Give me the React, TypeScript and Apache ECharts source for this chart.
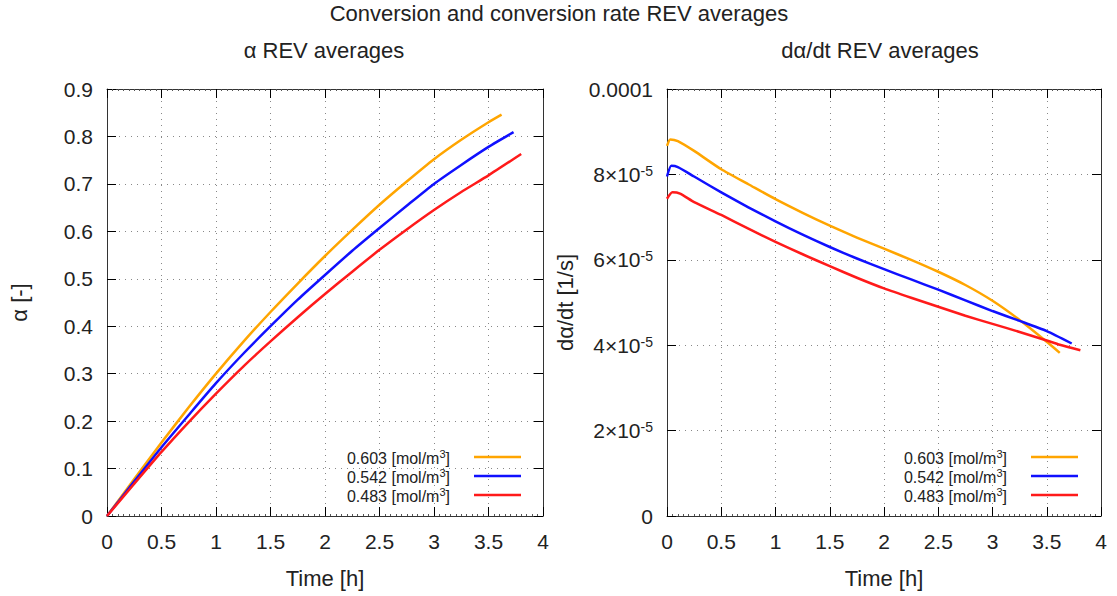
import React, { useEffect, useRef } from 'react';
import * as echarts from 'echarts';

// ---- data ----
const concentrations = ['0.603', '0.542', '0.483'];
const seriesColors = ['#ffa500', '#1010ff', '#ff1a1a'];

// alpha (left)
const alphaTime603 = [0, 0.25, 0.5, 0.75, 1, 1.25, 1.5, 1.75, 2, 2.25, 2.5, 2.75, 3, 3.25, 3.5, 3.62];
const alpha603 = [0, 0.078, 0.155, 0.229, 0.3, 0.367, 0.43, 0.49, 0.548, 0.603, 0.656, 0.705, 0.752, 0.793, 0.83, 0.846];
const alphaTime542 = [0, 0.25, 0.5, 0.75, 1, 1.25, 1.5, 1.75, 2, 2.25, 2.5, 2.75, 3, 3.25, 3.5, 3.73];
const alpha542 = [0, 0.073, 0.145, 0.213, 0.28, 0.342, 0.4, 0.456, 0.508, 0.559, 0.607, 0.654, 0.7, 0.74, 0.778, 0.809];
const alphaTime483 = [0, 0.25, 0.5, 0.75, 1, 1.25, 1.5, 1.75, 2, 2.25, 2.5, 2.75, 3, 3.25, 3.5, 3.8];
const alpha483 = [0, 0.068, 0.135, 0.198, 0.258, 0.315, 0.368, 0.419, 0.468, 0.515, 0.561, 0.604, 0.645, 0.683, 0.718, 0.763];

// dalpha/dt (right), in 1/s
const rateTime603 = [0, 0.03, 0.1, 0.25, 0.5, 0.75, 1, 1.25, 1.5, 1.75, 2, 2.25, 2.5, 2.75, 3, 3.25, 3.5, 3.62];
const rate603 = [8.67e-5, 8.82e-5, 8.78e-5, 8.55e-5, 8.12e-5, 7.77e-5, 7.42e-5, 7.1e-5, 6.8e-5, 6.52e-5, 6.26e-5, 6.0e-5, 5.72e-5, 5.41e-5, 5.04e-5, 4.59e-5, 4.08e-5, 3.82e-5];
const rateTime542 = [0, 0.04, 0.1, 0.25, 0.5, 0.75, 1, 1.25, 1.5, 1.75, 2, 2.25, 2.5, 2.75, 3, 3.25, 3.5, 3.73];
const rate542 = [7.95e-5, 8.2e-5, 8.17e-5, 7.95e-5, 7.58e-5, 7.23e-5, 6.9e-5, 6.59e-5, 6.3e-5, 6.03e-5, 5.78e-5, 5.54e-5, 5.3e-5, 5.05e-5, 4.8e-5, 4.57e-5, 4.33e-5, 4.04e-5];
const rateTime483 = [0, 0.05, 0.12, 0.25, 0.5, 0.75, 1, 1.25, 1.5, 1.75, 2, 2.25, 2.5, 2.75, 3, 3.25, 3.5, 3.62, 3.81];
const rate483 = [7.43e-5, 7.58e-5, 7.55e-5, 7.35e-5, 7.05e-5, 6.73e-5, 6.42e-5, 6.13e-5, 5.85e-5, 5.58e-5, 5.33e-5, 5.11e-5, 4.9e-5, 4.69e-5, 4.5e-5, 4.31e-5, 4.11e-5, 4.01e-5, 3.88e-5];

const mainTitle = 'Conversion and conversion rate REV averages';
const leftTitle = 'α REV averages';
const rightTitle = 'dα/dt REV averages';
const xName = 'Time [h]';
const leftYName = 'α [-]';
const rightYName = 'dα/dt [1/s]';

const FONT = '"Liberation Sans", Arial, sans-serif';
const TXT = '#222';

const zip = (xs: number[], ys: number[]) => xs.map((x, i) => [x, ys[i]]);
const names = concentrations.map((c) => c + ' [mol/m3]');

function xAxes(gridIndex: number) {
  const common = {
    type: 'value',
    gridIndex,
    min: 0,
    max: 4,
    interval: 0.5,
  };
  return [
    {
      ...common,
      position: 'bottom',
      axisLine: { show: true, onZero: false, lineStyle: { color: '#333', width: 1 } },
      axisTick: { show: true, inside: true, length: 9, lineStyle: { color: '#000' } },
      minorTick: { show: true, splitNumber: 10, length: 2, lineStyle: { color: '#555' } },
      axisLabel: { fontSize: 21, color: TXT, margin: 15, fontFamily: FONT },
      splitLine: { show: true, lineStyle: { type: [1, 5], color: '#888', width: 1 } },
      name: xName,
      nameLocation: 'middle',
      nameGap: 51,
      nameTextStyle: { fontSize: 22, color: TXT, fontFamily: FONT },
    },
    {
      ...common,
      position: 'top',
      axisLine: { show: true, onZero: false, lineStyle: { color: '#333', width: 1 } },
      axisTick: { show: true, inside: true, length: 9, lineStyle: { color: '#000' } },
      minorTick: { show: true, splitNumber: 10, length: 2, lineStyle: { color: '#555' } },
      axisLabel: { show: false },
      splitLine: { show: false },
    },
  ];
}

function yAxes(gridIndex: number, max: number, interval: number, name: string, nameGap: number, formatter?: any) {
  const common = { type: 'value', gridIndex, min: 0, max, interval };
  return [
    {
      ...common,
      position: 'left',
      axisLine: { show: true, onZero: false, lineStyle: { color: '#333', width: 1 } },
      axisTick: { show: true, inside: true, length: 9, lineStyle: { color: '#000' } },
      axisLabel: {
        fontSize: 21,
        color: TXT,
        margin: 14,
        fontFamily: FONT,
        formatter,
        rich: {
          b: { fontSize: 21, color: TXT, fontFamily: FONT },
          s: { fontSize: 14, color: TXT, fontFamily: FONT, verticalAlign: 'top' },
        },
      },
      splitLine: { show: true, lineStyle: { type: [1, 5], color: '#888', width: 1 } },
      name,
      nameLocation: 'middle',
      nameGap,
      nameTextStyle: { fontSize: 22, color: TXT, fontFamily: FONT },
    },
    {
      ...common,
      position: 'right',
      axisLine: { show: true, onZero: false, lineStyle: { color: '#333', width: 1 } },
      axisTick: { show: true, inside: true, length: 9, lineStyle: { color: '#000' } },
      axisLabel: { show: false },
      splitLine: { show: false },
    },
  ];
}

const rateFormatter = (v: number) => {
  if (v === 0) return '0';
  if (Math.abs(v - 1e-4) < 1e-9) return '0.0001';
  const m = Math.round(v / 1e-5);
  return '{b|' + m + '×10}{s|-5}';
};

function legend(right: number) {
  return {
    data: names,
    orient: 'vertical',
    right,
    top: 443,
    align: 'right',
    icon: 'rect',
    itemWidth: 47,
    itemHeight: 2.5,
    itemGap: 1,
    selectedMode: false,
    formatter: (n: string) => '{a|' + n.replace(' [mol/m3]', ' [mol/m') + '}{s|3}{a|]}',
    textStyle: {
      color: TXT,
      fontSize: 16,
      fontFamily: FONT,
      padding: [0, 19, 0, 0],
      rich: {
        a: { fontSize: 16, lineHeight: 18, color: TXT, fontFamily: FONT, verticalAlign: 'bottom' },
        s: { fontSize: 11, lineHeight: 11, color: TXT, fontFamily: FONT, verticalAlign: 'top' },
      },
    },
  };
}

function lineSeries(name: string, color: string, data: number[][], axisIndex: number) {
  return {
    type: 'line',
    name,
    data,
    xAxisIndex: axisIndex,
    yAxisIndex: axisIndex,
    showSymbol: false,
    symbol: 'none',
    smooth: 0.2,
    lineStyle: { color, width: 2.5, join: 'round' },
    itemStyle: { color },
  };
}

const option = {
  animation: false,
  backgroundColor: '#fff',
  title: [
    { text: mainTitle, left: 554, top: -3, textAlign: 'center', textStyle: { fontSize: 22, fontWeight: 'normal', color: TXT, fontFamily: FONT } },
    { text: leftTitle, left: 319, top: 34, textAlign: 'center', textStyle: { fontSize: 22, fontWeight: 'normal', color: TXT, fontFamily: FONT } },
    { text: rightTitle, left: 875, top: 34, textAlign: 'center', textStyle: { fontSize: 22, fontWeight: 'normal', color: TXT, fontFamily: FONT } },
  ],
  grid: [
    { left: 107, right: 574, top: 89, bottom: 80, containLabel: false },
    { left: 667, right: 16, top: 89, bottom: 80, containLabel: false },
  ],
  legend: [legend(591), legend(34)],
  xAxis: [...xAxes(0), ...xAxes(1)],
  yAxis: [
    ...yAxes(0, 0.9, 0.1, leftYName, 77, undefined),
    ...yAxes(1, 1e-4, 2e-5, rightYName, 91, rateFormatter),
  ],
  series: [
    lineSeries(names[0], seriesColors[0], zip(alphaTime603, alpha603), 0),
    lineSeries(names[1], seriesColors[1], zip(alphaTime542, alpha542), 0),
    lineSeries(names[2], seriesColors[2], zip(alphaTime483, alpha483), 0),
    lineSeries(names[0], seriesColors[0], zip(rateTime603, rate603), 2),
    lineSeries(names[1], seriesColors[1], zip(rateTime542, rate542), 2),
    lineSeries(names[2], seriesColors[2], zip(rateTime483, rate483), 2),
  ],
};

export default function App() {
  const ref = useRef<HTMLDivElement>(null);
  useEffect(() => {
    const chart = echarts.init(ref.current!, null, { renderer: 'svg' });
    chart.setOption(option as any);
    return () => chart.dispose();
  }, []);
  return <div ref={ref} style={{ position: 'fixed', left: 0, top: 0, width: 1117, height: 596, background: '#fff' }} />;
}
